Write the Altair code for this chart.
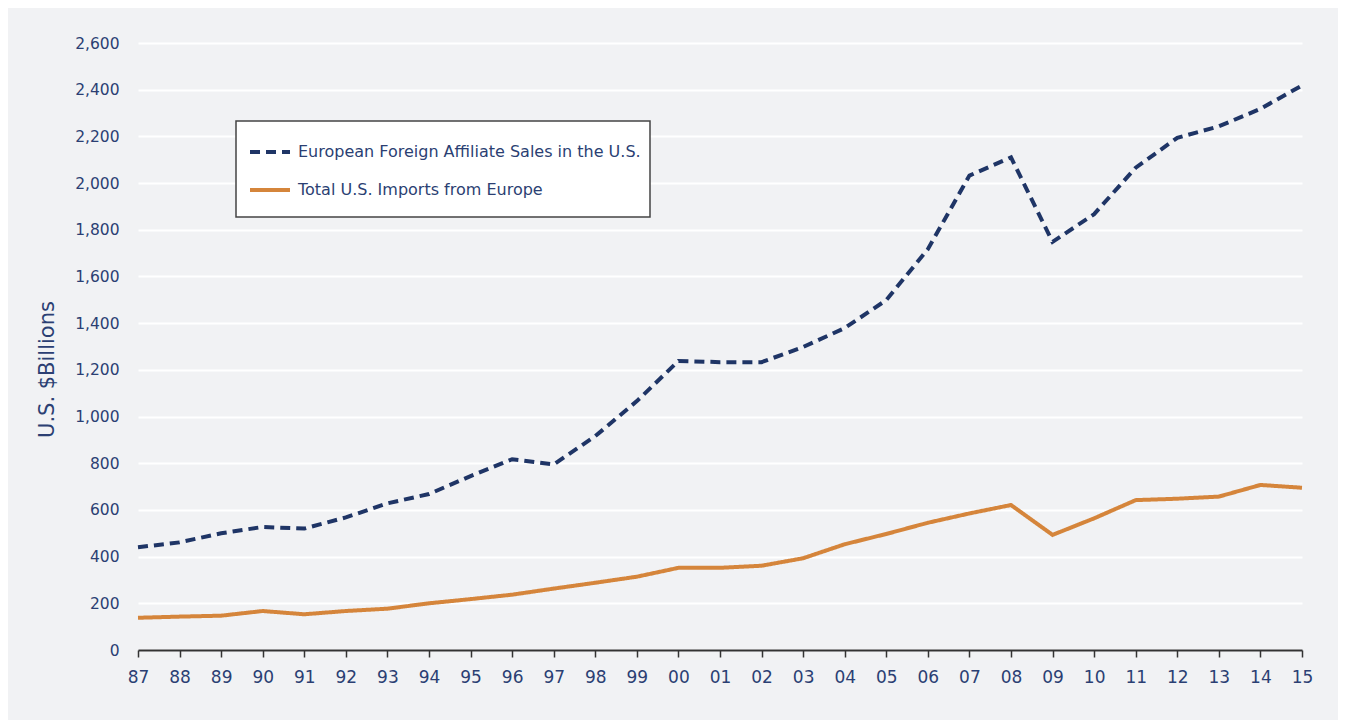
import altair as alt
import pandas as pd

years = list(range(1987, 2016))
affiliate_sales = [440, 461, 500, 527, 520, 568, 628, 668, 745, 817, 795, 916, 1066,
                   1238, 1233, 1233, 1298, 1379, 1499, 1717, 2032, 2110, 1748, 1867,
                   2066, 2194, 2243, 2318, 2418]
us_imports = [138, 143, 147, 167, 153, 167, 177, 200, 218, 237, 263, 288, 314,
              352, 352, 361, 393, 453, 497, 545, 585, 621, 493, 564,
              642, 648, 657, 707, 695]
series_names = ["European Foreign Affiliate Sales in the U.S.", "Total U.S. Imports from Europe"]
y_ticks = list(range(0, 2601, 200))

rows = []
for i, yr in enumerate(years):
    rows.append({"year": yr, "value": affiliate_sales[i], "series": series_names[0]})
    rows.append({"year": yr, "value": us_imports[i], "series": series_names[1]})
df = pd.DataFrame(rows)

NAVY = "#1f3566"
LABEL = "#2b3f73"
ORANGE = "#d5853b"
BG = "#f1f2f4"
FONT = "DejaVu Sans"

legend = alt.Legend(title=" ", titleOrient="bottom", titleFontSize=1, titlePadding=9,
                    orient="none", legendX=98, legendY=78)

chart = alt.Chart(df).mark_line(strokeWidth=4, strokeJoin="miter", strokeCap="butt").encode(
    x=alt.X("year:Q",
            scale=alt.Scale(domain=[1987, 2015], nice=False, zero=False),
            axis=alt.Axis(values=years, labelExpr="slice(toString(datum.value), 2)",
                          title=None, grid=False, domain=True, domainColor="#333333",
                          domainWidth=2, ticks=True, tickColor="#333333", tickSize=7,
                          tickWidth=1.5, labelFontSize=17, labelColor=LABEL, labelFont=FONT,
                          labelPadding=12, labelFlush=False)),
    y=alt.Y("value:Q",
            scale=alt.Scale(domain=[0, 2600], nice=False),
            axis=alt.Axis(values=y_ticks, format=",.0f", title="U.S. $Billions",
                          titleFontSize=21, titleFontWeight="normal", titleColor=LABEL,
                          titleFont=FONT, titleX=-91, titleY=326, titleAngle=-90,
                          titleAlign="center", titleBaseline="middle",
                          grid=True, gridColor="#ffffff", gridWidth=2,
                          domain=False, ticks=False, labelFontSize=15.5, labelColor=LABEL,
                          labelFont=FONT, labelPadding=19)),
    color=alt.Color("series:N",
                    scale=alt.Scale(domain=series_names, range=[NAVY, ORANGE]),
                    legend=legend),
    strokeDash=alt.StrokeDash("series:N",
                              scale=alt.Scale(domain=series_names, range=[[10, 6], [1, 0]]),
                              legend=legend),
).properties(
    width=1164, height=607,
    autosize=alt.AutoSizeParams(type="none"),
    padding={"left": 130, "top": 35, "right": 36, "bottom": 70},
).configure(background=BG).configure_view(stroke=None).configure_legend(
    fillColor="#ffffff", strokeColor="#444444", strokeWidth=1.5, padding=9,
    symbolType="stroke", symbolSize=1600, symbolStrokeWidth=4, symbolOffset=3,
    labelFontSize=16, labelColor=LABEL, labelFont=FONT, labelOffset=6,
    rowPadding=8, labelLimit=500,
)

chart.save("out.html", embed_options={"renderer": "svg", "actions": False})
